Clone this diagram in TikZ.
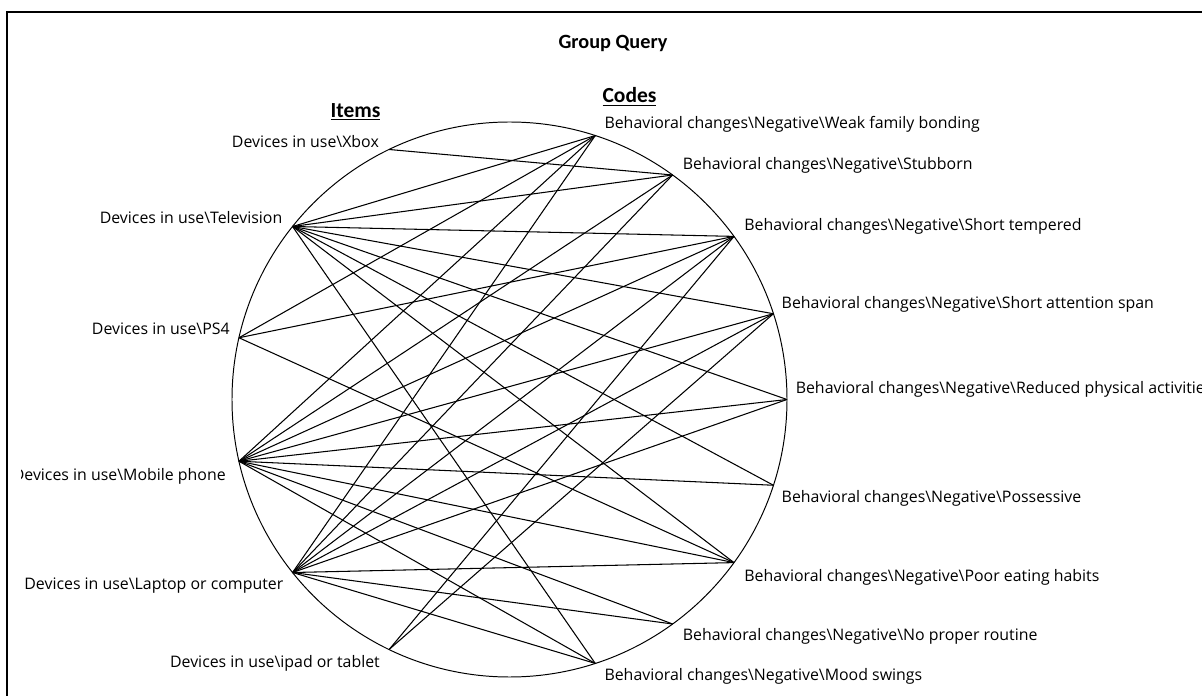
\documentclass[tikz,border=0pt]{standalone}
\usepackage{fontspec}
\setmainfont{Open Sans}
\newfontfamily\headfont{Carlito}
\usepackage{tikz}
\usetikzlibrary{calc}
\tikzset{
         mylink/.style={draw, line width=.75pt},
         myitem/.style={inner sep=0pt, anchor=east, font=\fontsize{11.3}{13}\selectfont},
         mycode/.style={inner sep=0pt, anchor=west, font=\fontsize{11.3}{13}\selectfont},
         myhead/.style={inner sep=0pt, font=\headfont\bfseries\fontsize{15.3}{17}\selectfont}
      }

\begin{document}
\begin{tikzpicture}[x=0.025cm, y=0.025cm]
                     \useasboundingbox (-509.5,-296.5) rectangle (692.5,399.5);
                     \draw[line width=1.5pt] (-502.5,-310) -- (-502.5,387.5) -- (710,387.5);
                     \node[myhead, font=\headfont\bfseries\fontsize{14.4}{16}\selectfont] (title) at (103.5,356.5) {Group Query};
                     \node[myhead] (items) at (-154,287.5) {\underline{Items}};
                     \node[myhead] (codes) at (120,302.8) {\underline{Codes}};
                     \draw[line width=.7pt] (0,0) circle (277.5);
                     % items on the left half, codes on the right half
                     \coordinate (xbox) at ({90+1*180/7}:277.5);
                     \coordinate (tv)   at ({90+2*180/7}:277.5);
                     \coordinate (ps)   at ({90+3*180/7}:277.5);
                     \coordinate (mob)  at ({90+4*180/7}:277.5);
                     \coordinate (lap)  at ({90+5*180/7}:277.5);
                     \coordinate (ipad) at ({90+6*180/7}:277.5);
                     \coordinate (weak) at (72:277.5);
                     \coordinate (stub) at (54:277.5);
                     \coordinate (temp) at (36:277.5);
                     \coordinate (span) at (18:277.5);
                     \coordinate (phys) at (0:277.5);
                     \coordinate (poss) at (-18:277.5);
                     \coordinate (eat)  at (-36:277.5);
                     \coordinate (rout) at (-54:277.5);
                     \coordinate (mood) at (-72:277.5);
                     \begin{scope}
                     \clip (-488,-296.5) rectangle (692.5,385);
                     \node[myitem] (lxbox) at ($(xbox)+(-10,8)$) {Devices in use\textbackslash Xbox};
                     \node[myitem] (ltv)   at ($(tv)+(-10,9)$)   {Devices in use\textbackslash Television};
                     \node[myitem] (lps)   at ($(ps)+(-9,9)$)    {Devices in use\textbackslash PS4};
                     \node[myitem] (lmob)  at ($(mob)+(-13,-15)$) {Devices in use\textbackslash Mobile phone};
                     \node[myitem] (llap)  at ($(lap)+(-9,-13)$) {Devices in use\textbackslash Laptop or computer};
                     \node[myitem] (lipad) at ($(ipad)+(-9,-14)$) {Devices in use\textbackslash ipad or tablet};
                     \node[mycode] (lweak) at ($(weak)+(9,11)$)  {Behavioral changes\textbackslash Negative\textbackslash Weak family bonding};
                     \node[mycode] (lstub) at ($(stub)+(10,10)$) {Behavioral changes\textbackslash Negative\textbackslash Stubborn};
                     \node[mycode] (ltemp) at ($(temp)+(10,10)$) {Behavioral changes\textbackslash Negative\textbackslash Short tempered};
                     \node[mycode] (lspan) at ($(span)+(8,9)$)   {Behavioral changes\textbackslash Negative\textbackslash Short attention span};
                     \node[mycode] (lphys) at ($(phys)+(8.5,10)$) {Behavioral changes\textbackslash Negative\textbackslash Reduced physical activities};
                     \node[mycode] (lposs) at ($(poss)+(8,-13)$) {Behavioral changes\textbackslash Negative\textbackslash Possessive};
                     \node[mycode] (leat)  at ($(eat)+(10,-15)$) {Behavioral changes\textbackslash Negative\textbackslash Poor eating habits};
                     \node[mycode] (lrout) at ($(rout)+(10,-12)$) {Behavioral changes\textbackslash Negative\textbackslash No proper routine};
                     \node[mycode] (lmood) at ($(mood)+(9,-13)$) {Behavioral changes\textbackslash Negative\textbackslash Mood swings};
                     \end{scope}
                     % links
                     \path [mylink] (xbox) -- (stub);
                     \path [mylink] (tv) -- (weak);
                     \path [mylink] (tv) -- (stub);
                     \path [mylink] (tv) -- (temp);
                     \path [mylink] (tv) -- (span);
                     \path [mylink] (tv) -- (phys);
                     \path [mylink] (tv) -- (poss);
                     \path [mylink] (tv) -- (eat);
                     \path [mylink] (tv) -- (mood);
                     \path [mylink] (ps) -- (weak);
                     \path [mylink] (ps) -- (temp);
                     \path [mylink] (ps) -- (eat);
                     \path [mylink] (mob) -- (weak);
                     \path [mylink] (mob) -- (stub);
                     \path [mylink] (mob) -- (temp);
                     \path [mylink] (mob) -- (span);
                     \path [mylink] (mob) -- (phys);
                     \path [mylink] (mob) -- (poss);
                     \path [mylink] (mob) -- (eat);
                     \path [mylink] (mob) -- (rout);
                     \path [mylink] (mob) -- (mood);
                     \path [mylink] (lap) -- (weak);
                     \path [mylink] (lap) -- (stub);
                     \path [mylink] (lap) -- (temp);
                     \path [mylink] (lap) -- (span);
                     \path [mylink] (lap) -- (phys);
                     \path [mylink] (lap) -- (eat);
                     \path [mylink] (lap) -- (rout);
                     \path [mylink] (lap) -- (mood);
                     \path [mylink] (ipad) -- (temp);
                     \path [mylink] (ipad) -- (span);
               \end{tikzpicture}
\end{document}
